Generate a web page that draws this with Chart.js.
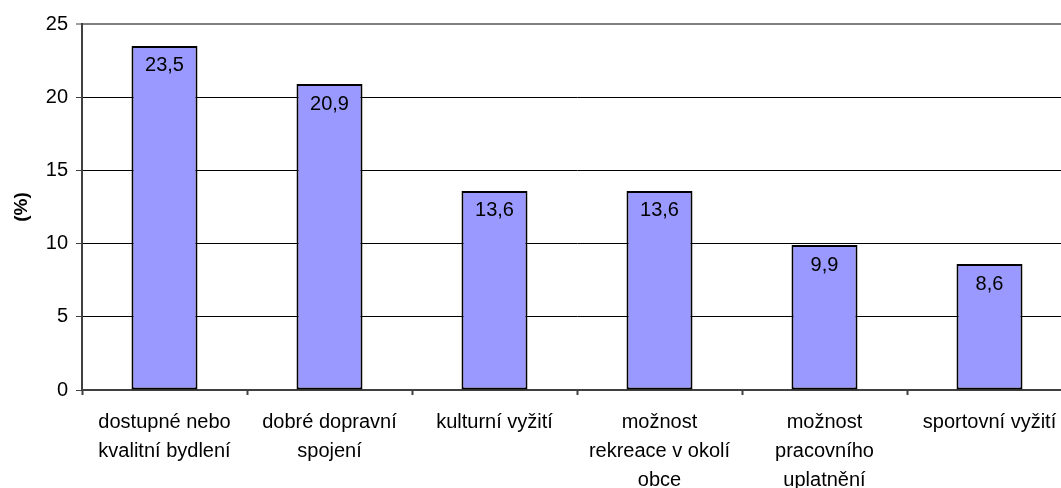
<!DOCTYPE html>
<html>
<head>
<meta charset="utf-8">
<script src="https://cdn.jsdelivr.net/npm/chart.js@4/dist/chart.umd.min.js"></script>
<style>
html,body{margin:0;padding:0;background:#fff;overflow:hidden;}
canvas{display:block;}
</style>
</head>
<body>
<canvas id="c" width="1080" height="488"></canvas>
<script>
const categories = [
  ["dostupné nebo", "kvalitní bydlení"],
  ["dobré dopravní", "spojení"],
  "kulturní vyžití",
  ["možnost", "rekreace v okolí", "obce"],
  ["možnost", "pracovního", "uplatnění"],
  "sportovní vyžití"
];
const values = [23.5, 20.9, 13.6, 13.6, 9.9, 8.6];
const yTicks = [0, 5, 10, 15, 20, 25];
const yTitle = "(%)";

const FONT = "'Liberation Sans', Arial, sans-serif";

const dataLabels = {
  id: 'dataLabels',
  afterDatasetsDraw(chart) {
    const ctx = chart.ctx;
    const meta = chart.getDatasetMeta(0);
    ctx.save();
    ctx.font = "20px " + FONT;
    ctx.fillStyle = "#000";
    ctx.textAlign = "center";
    ctx.textBaseline = "middle";
    meta.data.forEach((bar, i) => {
      const txt = values[i].toFixed(1).replace('.', ',');
      ctx.fillText(txt, bar.x, bar.y + 20);
    });
    ctx.restore();
  }
};

new Chart(document.getElementById('c'), {
  type: 'bar',
  data: {
    labels: categories,
    datasets: [{
      data: values,
      backgroundColor: '#9999FF',
      borderColor: '#000000',
      borderWidth: 2,
      borderSkipped: false,
      categoryPercentage: 1,
      barPercentage: 0.4
    }]
  },
  options: {
    responsive: false,
    animation: false,
    devicePixelRatio: 1,
    layout: { padding: { top: 24, right: 8, left: 0, bottom: 0 } },
    plugins: { legend: { display: false }, tooltip: { enabled: false } },
    scales: {
      x: {
        offset: true,
        grid: {
          offset: true,
          drawOnChartArea: false,
          drawTicks: true,
          tickLength: 5,
          tickColor: '#404040',
          tickWidth: 2
        },
        border: { color: '#404040', width: 2 },
        ticks: {
          autoSkip: false,
          maxRotation: 0,
          minRotation: 0,
          color: '#000',
          padding: 13,
          font: { family: FONT, size: 20, lineHeight: 1.45 }
        },
        afterFit(scale) { scale.height = 98; }
      },
      y: {
        min: 0,
        max: 25,
        afterBuildTicks(scale) { scale.ticks = yTicks.map(v => ({ value: v })); },
        grid: {
          color: (c) => (c.tick && c.tick.value === 25) ? '#808080' : '#000000',
          lineWidth: (c) => (c.tick && c.tick.value === 25) ? 2 : 1,
          tickColor: '#404040',
          tickLength: 6,
          tickWidth: 1
        },
        border: { color: '#404040', width: 2 },
        ticks: {
          color: '#000',
          padding: 8,
          font: { family: FONT, size: 20 }
        },
        title: {
          display: true,
          text: yTitle,
          color: '#000',
          font: { family: FONT, size: 19, weight: 'bold' },
          padding: { top: 10, bottom: 0 }
        },
        afterFit(scale) { scale.width = 82; }
      }
    }
  },
  plugins: [dataLabels]
});
</script>
</body>
</html>
